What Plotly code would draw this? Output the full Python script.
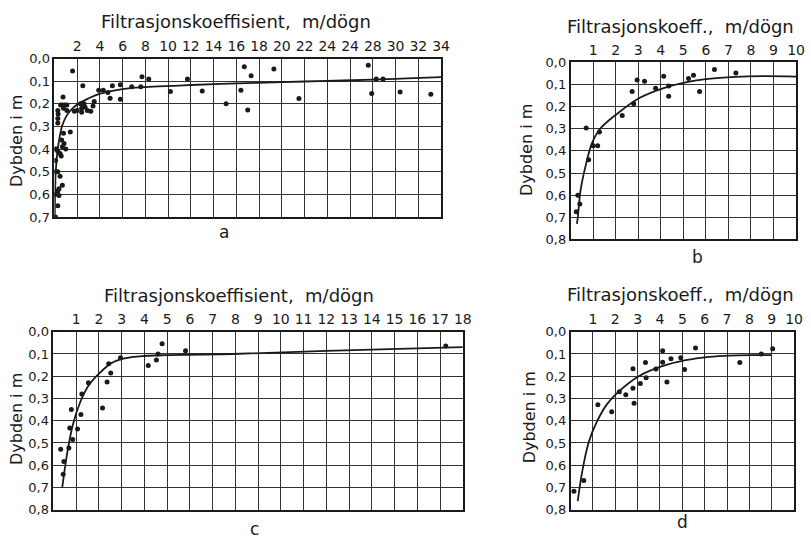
import plotly.graph_objects as go

# ---------------- data ----------------
# Panel a
a_x = [1.6, 2.5, 0.76, 0.55, 0.7, 0.9, 1.1, 0.3, 0.33, 0.3, 0.3, 0.8, 1.1, 1.4, 0.8,
       0.64, 0.85, 0.7, 0.2, 0.3, 0.5, 1.0, 0.6, 0.1, 0.3, 0.5, 0.7, 0.4, 0.3, 0.4, 0.3,
       0.1, 0.1, 0.1, 0.1,
       1.76, 2.0, 2.3, 2.4, 2.6, 2.7, 2.9, 3.2, 3.4, 3.5, 2.4,
       3.9, 4.3, 4.7, 5.1, 4.9, 5.8, 5.8, 6.8, 7.6, 7.7, 8.3,
       10.2, 11.7, 13.0, 15.1, 16.4, 16.7, 17.0, 17.3, 19.3, 21.5, 27.6, 27.9, 28.3, 28.9,
       30.4, 33.1]
a_y = [0.055, 0.12, 0.17, 0.205, 0.205, 0.205, 0.205, 0.23, 0.245, 0.265, 0.285, 0.22, 0.23, 0.325, 0.33,
       0.36, 0.375, 0.39, 0.40, 0.41, 0.42, 0.40, 0.43, 0.40, 0.50, 0.52, 0.56, 0.575, 0.585, 0.605, 0.65,
       0.70, 0.50, 0.60, 0.45,
       0.233, 0.23, 0.20, 0.22, 0.20, 0.215, 0.23, 0.233, 0.21, 0.19, 0.237,
       0.14, 0.14, 0.15, 0.12, 0.175, 0.18, 0.116, 0.125, 0.125, 0.08, 0.09,
       0.146, 0.09, 0.143, 0.20, 0.14, 0.036, 0.227, 0.076, 0.046, 0.176, 0.03, 0.155, 0.09, 0.09,
       0.148, 0.158]
a_curve_x = [0.03, 0.06, 0.12, 0.25, 0.45, 0.7, 1.1, 1.6, 2.2, 3.0, 3.9, 5.1, 6.9, 8.7, 12, 16, 20, 24, 28, 31, 34]
a_curve_y = [0.70, 0.60, 0.50, 0.42, 0.35, 0.295, 0.25, 0.22, 0.197, 0.176, 0.157, 0.143, 0.13, 0.124, 0.117,
             0.11, 0.104, 0.099, 0.093, 0.088, 0.082]
a_xticks = [2, 4, 6, 8, 10, 12, 14, 16, 18, 20, 22, 24, 26, 28, 30, 32, 34]
a_xtext = ["2", "4", "6", "8", "10", "12", "14", "16", "18", "20", "22", "24", "24", "28", "30", "32", "34"]

# Panel b
b_x = [0.69, 1.28, 1.0, 1.2, 0.8, 0.32, 0.41, 0.25, 2.29, 2.73, 2.8, 2.95, 3.28, 3.77, 4.13,
       4.35, 4.35, 5.23, 5.45, 5.72, 6.38, 7.33]
b_y = [0.296, 0.315, 0.377, 0.377, 0.44, 0.60, 0.64, 0.675, 0.24, 0.131, 0.187, 0.08, 0.085, 0.117, 0.063,
       0.107, 0.153, 0.073, 0.058, 0.131, 0.032, 0.048]
b_curve_x = [0.28, 0.32, 0.44, 0.66, 0.95, 1.31, 2.04, 3.07, 4.09, 5.1, 6.1, 7.3, 8.5, 10]
b_curve_y = [0.73, 0.70, 0.58, 0.47, 0.365, 0.30, 0.234, 0.16, 0.117, 0.09, 0.074, 0.065, 0.062, 0.064]

# Panel c
c_x = [0.32, 0.46, 0.43, 0.68, 0.72, 0.79, 0.85, 1.06, 1.21, 1.25, 1.54, 2.16, 2.36, 2.43, 2.52, 2.95,
       4.17, 4.53, 4.6, 4.78, 5.81, 17.25]
c_y = [0.528, 0.583, 0.641, 0.523, 0.433, 0.35, 0.484, 0.437, 0.372, 0.28, 0.229, 0.343, 0.226, 0.144,
       0.185, 0.117, 0.152, 0.127, 0.10, 0.054, 0.086, 0.064]
c_curve_x = [0.39, 0.6, 0.85, 1.18, 1.54, 1.97, 2.55, 3.12, 3.99, 5.0, 7.9, 12.0, 18.0]
c_curve_y = [0.70, 0.55, 0.42, 0.316, 0.243, 0.192, 0.141, 0.12, 0.109, 0.105, 0.10, 0.086, 0.069]

# Panel d
d_x = [0.15, 0.59, 1.22, 1.84, 2.18, 2.47, 2.79, 2.79, 2.84, 3.12, 3.35, 3.38, 3.82, 4.12, 4.12,
       4.31, 4.49, 4.93, 5.1, 5.59, 7.57, 8.53, 9.04]
d_y = [0.717, 0.669, 0.328, 0.36, 0.27, 0.283, 0.166, 0.254, 0.321, 0.233, 0.138, 0.207, 0.168, 0.086,
       0.137, 0.226, 0.122, 0.117, 0.17, 0.073, 0.138, 0.10, 0.076]
d_curve_x = [0.32, 0.5, 0.8, 1.15, 1.6, 2.2, 3.05, 4.1, 5.15, 6.2, 7.1, 8.2, 9.0]
d_curve_y = [0.762, 0.64, 0.50, 0.41, 0.33, 0.265, 0.20, 0.155, 0.128, 0.113, 0.107, 0.105, 0.105]

y7_ticks = [0, 0.1, 0.2, 0.3, 0.4, 0.5, 0.6, 0.7]
y7_text = ["0,0", "0,1", "0,2", "0,3", "0,4", "0,5", "0,6", "0,7"]
y8_ticks = [0, 0.1, 0.2, 0.3, 0.4, 0.5, 0.6, 0.7, 0.8]
y8_text = ["0,0", "0,1", "0,2", "0,3", "0,4", "0,5", "0,6", "0,7", "0,8"]
b_xticks = list(range(1, 11))
c_xticks = list(range(1, 19))
d_xticks = list(range(1, 11))

title_long = "Filtrasjonskoeffisient,  m/dögn"
title_short = "Filtrasjonskoeff.,  m/dögn"
ytitle = "Dybden i m"
letters = ["a", "b", "c", "d"]

# ---------------- figure ----------------
W, H = 811, 541
FONT = "DejaVu Sans"
INK = "#1a1a1a"

def px(x):
    return x / W

def py(y):
    return 1 - y / H

panels = [
    (a_x, a_y, a_curve_x, a_curve_y, [0, 34], a_xticks, a_xtext, 0.7, y7_ticks, y7_text, (55, 446, 53, 216)),
    (b_x, b_y, b_curve_x, b_curve_y, [0, 10], b_xticks, [str(v) for v in b_xticks], 0.8, y8_ticks, y8_text, (577, 805, 57, 239)),
    (c_x, c_y, c_curve_x, c_curve_y, [0, 18], c_xticks, [str(v) for v in c_xticks], 0.8, y8_ticks, y8_text, (54, 468, 334, 517)),
    (d_x, d_y, d_curve_x, d_curve_y, [0, 10], d_xticks, [str(v) for v in d_xticks], 0.8, y8_ticks, y8_text, (577, 803, 334, 517)),
]

fig = go.Figure()
layout = dict(
    width=W, height=H, margin=dict(l=0, r=0, t=0, b=0),
    paper_bgcolor="white", plot_bgcolor="white", showlegend=False,
    font=dict(family=FONT, color=INK),
)

for i, (xs, ys, cx, cy, xr, xt, xtt, ymax, yt, ytt, box) in enumerate(panels):
    n = "" if i == 0 else str(i + 1)
    l, r, t, b = box
    fig.add_trace(go.Scatter(x=cx, y=cy, mode="lines", line=dict(color=INK, width=1.8, shape="spline"),
                             xaxis="x" + n, yaxis="y" + n, hoverinfo="skip"))
    fig.add_trace(go.Scatter(x=xs, y=ys, mode="markers", marker=dict(color=INK, size=5),
                             xaxis="x" + n, yaxis="y" + n))
    layout["xaxis" + n] = dict(
        domain=[px(l), px(r)], anchor="y" + n, side="top", range=xr,
        tickmode="array", tickvals=xt, ticktext=xtt, ticks="",
        showgrid=True, gridcolor="#333", gridwidth=1, zeroline=False,
        showline=True, mirror=True, linecolor=INK, linewidth=1.6,
        tickfont=dict(size=14, family=FONT, color=INK),
    )
    layout["yaxis" + n] = dict(
        domain=[py(b), py(t)], anchor="x" + n, range=[ymax, 0],
        tickmode="array", tickvals=yt, ticktext=ytt, ticks="",
        showgrid=True, gridcolor="#333", gridwidth=1, zeroline=False,
        showline=True, mirror=True, linecolor=INK, linewidth=1.6,
        tickfont=dict(size=13, family=FONT, color=INK),
    )

annotations = []
for txt, cxp, cyp in [(title_long, 239, 15), (title_short, 688, 20), (title_long, 242, 297), (title_short, 688, 296)]:
    annotations.append(dict(text=txt, x=px(cxp), y=py(cyp), xref="paper", yref="paper",
                            xanchor="center", yanchor="middle", showarrow=False,
                            font=dict(size=18, family=FONT, color=INK)))
for cxp, cyp in [(16, 138), (533, 147), (16, 424), (535, 422)]:
    annotations.append(dict(text=ytitle, x=px(cxp), y=py(cyp), xref="paper", yref="paper",
                            xanchor="center", yanchor="middle", showarrow=False, textangle=-90,
                            font=dict(size=16, family=FONT, color=INK)))
for txt, cxp, cyp in zip(letters, [227, 705, 257, 690], [231, 257, 537, 530]):
    annotations.append(dict(text=txt, x=px(cxp), y=py(cyp), xref="paper", yref="paper",
                            xanchor="center", yanchor="middle", showarrow=False,
                            font=dict(size=17, family=FONT, color=INK)))

layout["annotations"] = annotations
fig.update_layout(**layout)
fig.write_html("out.html")
